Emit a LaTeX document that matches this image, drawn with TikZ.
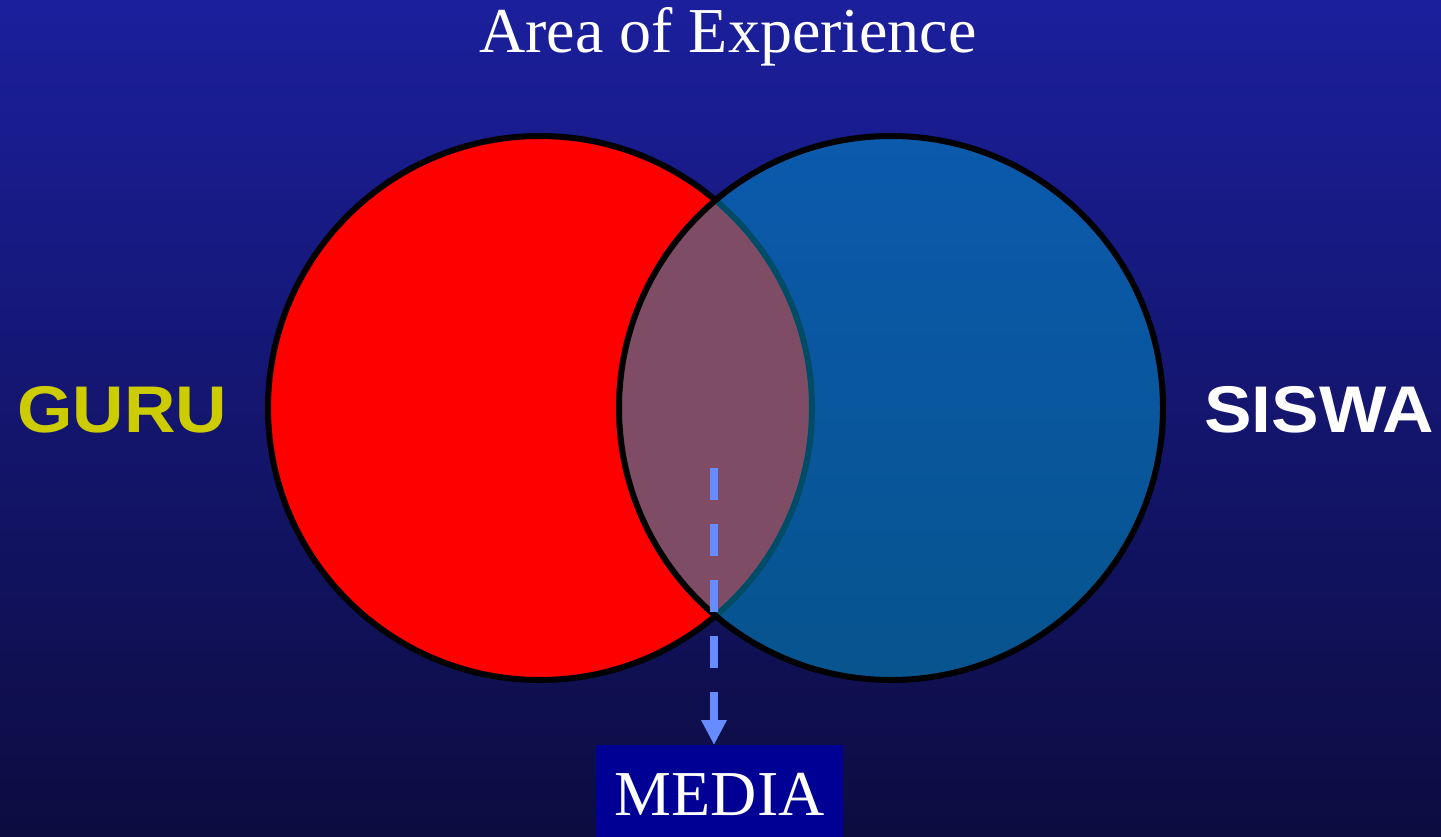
\documentclass[tikz,border=0pt]{standalone}
\usepackage{fontspec}
\usepackage{graphicx}
\setmainfont{Liberation Serif}
\newfontfamily\labelfont{Liberation Sans}
\usetikzlibrary{arrows.meta}
\definecolor{bgtop}{RGB}{27,31,156}
\definecolor{bgbot}{RGB}{12,12,64}
\definecolor{guruyellow}{RGB}{204,204,0}
\definecolor{sisblue}{RGB}{0,152,204}
\definecolor{arrowblue}{RGB}{102,140,255}
\definecolor{mediabox}{RGB}{0,0,148}
\newcommand{\widelabel}[1]{\scalebox{1.08}[1]{#1}}
\tikzset{
  venn/.style={line width=6pt, draw=black},
  sidelabel/.style={font=\labelfont\bfseries\fontsize{66}{70}\selectfont, inner sep=0pt},
  titletext/.style={font=\fontsize{64}{68}\selectfont, text=white, inner sep=0pt},
  mediabox/.style={fill=mediabox, minimum width=247pt, minimum height=92pt, inner sep=0pt},
  dasharrow/.style={draw=arrowblue, line width=8pt, dash pattern=on 32pt off 24pt,
     -{Triangle[width=24pt,length=25pt]}}
}
\begin{document}
\begin{tikzpicture}[x=1pt,y=-1pt]
  \shade[top color=bgtop, bottom color=bgbot] (0,0) rectangle (1441,837);
  \useasboundingbox (0,0) rectangle (1441,837);
  \node[titletext, anchor=base] (title) at (728,53) {Area of Experience};
  \fill[red] (540,408) circle[radius=272];
  \draw[venn] (540,408) circle[radius=272];
  \fill[sisblue, fill opacity=0.5] (891,408) circle[radius=272];
  \draw[venn] (891,408) circle[radius=272];
  \node[sidelabel, text=guruyellow, anchor=base west] (guru) at (17,432) {\widelabel{GURU}};
  \node[sidelabel, text=white, anchor=base east] (siswa) at (1434,432) {\widelabel{SISWA}};
  \node[mediabox, anchor=north west] (media) at (596,745) {};
  \node[titletext, anchor=base] (medialabel) at (media.center |- 0,815) {MEDIA};
  \coordinate (arrowstart) at (714,468);
  \draw[dasharrow] (arrowstart) -- (arrowstart |- media.north);
\end{tikzpicture}
\end{document}
